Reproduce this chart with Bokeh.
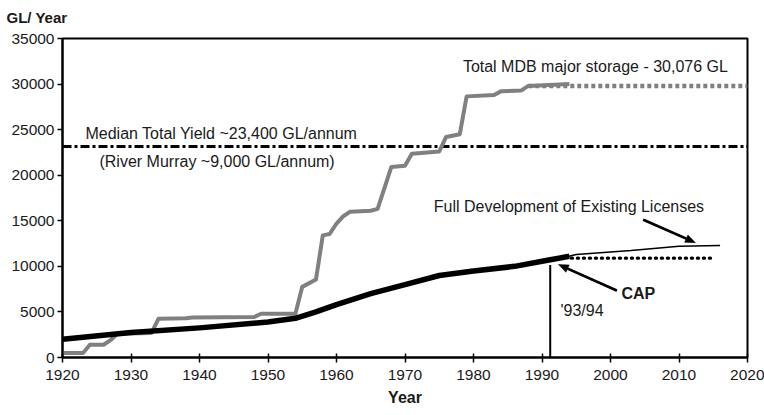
import math
from bokeh.plotting import figure
from bokeh.models import Label, Range1d, FixedTicker, Title, Arrow
from bokeh.embed import file_html
from bokeh.resources import INLINE

# ---- data ----
storage_years = [1920, 1923, 1924, 1926, 1927, 1928, 1933, 1934, 1938, 1939, 1948, 1949,
                 1954, 1955, 1957, 1958, 1959, 1960, 1961, 1962, 1965, 1966, 1968, 1970,
                 1971, 1975, 1976, 1978, 1979, 1983, 1984, 1987, 1988, 1994]
storage_gl = [500, 500, 1400, 1400, 1900, 2600, 2700, 4250, 4300, 4400, 4450, 4800,
              4800, 7750, 8550, 13400, 13550, 14700, 15500, 16000, 16100, 16300, 20900, 21050,
              22350, 22600, 24200, 24500, 28650, 28800, 29200, 29300, 29800, 30000]
storage_proj_years = [1988, 2020]
storage_proj_gl = [29800, 29800]

diversion_years = [1920, 1930, 1940, 1950, 1954, 1957, 1960, 1965, 1970, 1975, 1980, 1986, 1991, 1994]
diversion_gl = [2000, 2750, 3250, 3900, 4300, 5000, 5800, 7000, 8000, 9000, 9500, 10000, 10700, 11100]

full_dev_years = [1993, 1995, 2003, 2010, 2016]
full_dev_gl = [10950, 11300, 11750, 12200, 12300]

cap_years = [1994.3, 2014.6]
cap_gl = [10900, 10900]

median_yield_years = [1920, 2020]
median_yield_gl = [23150, 23150]

cap_intro_year = [1991.2, 1991.2]
cap_intro_gl = [0, 10150]

x_ticks = [1920, 1930, 1940, 1950, 1960, 1970, 1980, 1990, 2000, 2010, 2020]
y_ticks = [0, 5000, 10000, 15000, 20000, 25000, 30000, 35000]

# annotation arrows (start -> tip)
arrow_x0 = [2004.8, 2000.9]
arrow_y0 = [15110, 7350]
arrow_x1 = [2012.4, 1992.4]
arrow_y1 = [12600, 10200]

FONT = "Liberation Sans"
TXT = "#1a1a1a"
GRAY = "#808080"

FRAME_W, FRAME_H = 685, 319
p = figure(width=764, height=415, output_backend="svg", toolbar_location=None,
           x_range=Range1d(1920, 2020), y_range=Range1d(0, 35000),
           min_border_left=62, min_border_right=17, min_border_top=38, min_border_bottom=58)
p.xgrid.visible = False
p.ygrid.visible = False
p.outline_line_color = "black"
p.outline_line_width = 2
p.background_fill_color = "white"
p.border_fill_color = "white"

# top-left unit title "GL/ Year" (title + small spacer above the frame)
p.add_layout(Title(text=" ", text_font_size="10px", standoff=0), "above")
p.title.text = "GL/ Year"
p.title.align = "left"
p.title.offset = -56
p.title.standoff = 0
p.title.vertical_align = "bottom"
p.title.text_font = FONT
p.title.text_font_size = "15px"
p.title.text_font_style = "bold"
p.title.text_color = TXT

for ax in (p.xaxis[0], p.yaxis[0]):
    ax.axis_line_width = 2
    ax.axis_line_color = "black"
    ax.major_tick_line_width = 1.5
    ax.major_tick_line_color = "black"
    ax.minor_tick_line_color = None
    ax.major_label_text_font = FONT
    ax.major_label_text_font_size = "15.5px"
    ax.major_label_text_color = TXT

p.xaxis.ticker = FixedTicker(ticks=x_ticks)
p.yaxis.ticker = FixedTicker(ticks=y_ticks)
p.xaxis.major_tick_out = 5
p.xaxis.major_tick_in = 4
p.yaxis.major_tick_out = 5
p.yaxis.major_tick_in = 0
p.xaxis.major_label_standoff = 7
p.yaxis.major_label_standoff = 3
p.xaxis.axis_label = "Year"
p.xaxis.axis_label_text_font = FONT
p.xaxis.axis_label_text_font_style = "bold"
p.xaxis.axis_label_text_font_size = "16px"
p.xaxis.axis_label_text_color = TXT
p.xaxis.axis_label_standoff = 6

# lines
p.line(median_yield_years, median_yield_gl, line_color="black", line_width=3, line_dash="9 3 3 3")
p.line(storage_proj_years, storage_proj_gl, line_color=GRAY, line_width=4.5, line_dash="4 3")
p.line(storage_years, storage_gl, line_color=GRAY, line_width=4, line_join="round")
p.line(full_dev_years, full_dev_gl, line_color="black", line_width=1.5)
p.line(cap_years, cap_gl, line_color="black", line_width=3.4, line_dash="1 5", line_cap="round")
p.line(diversion_years, diversion_gl, line_color="black", line_width=5.5, line_join="round")
p.line(cap_intro_year, cap_intro_gl, line_color="black", line_width=2)

# texts (y of the text baseline, nudged for rendering offset)
DY = 650
def lab(x, y, t, size="16px", style="normal"):
    p.add_layout(Label(x=x, y=y + DY, text=t, text_font=FONT, text_font_size=size,
                       text_font_style=style, text_color=TXT,
                       text_baseline="alphabetic", text_align="left"))

lab(1923.35, 23920, "Median Total Yield ~23,400 GL/annum")
lab(1925.4, 20880, "(River Murray ~9,000 GL/annum)")
lab(1978.45, 31300, "Total MDB major storage - 30,076 GL")
lab(1974.2, 15940, "Full Development of Existing Licenses")
lab(2001.6, 6360, "CAP", style="bold")
lab(1992.7, 4500, "'93/94")

# arrows drawn last (overlay level): filled outline (shaft + head) in screen-pixel geometry
sx = FRAME_W / 100.0
sy = FRAME_H / 35000.0
HEAD_L, HEAD_W, SHAFT_W = 10.0, 4.0, 1.0
arrow_xs, arrow_ys = [], []
for x0, y0, x1, y1 in zip(arrow_x0, arrow_y0, arrow_x1, arrow_y1):
    X0, Y0 = (x0 - 1920) * sx, y0 * sy
    X1, Y1 = (x1 - 1920) * sx, y1 * sy
    dx, dy = X1 - X0, Y1 - Y0
    n = math.hypot(dx, dy)
    ux, uy = dx / n, dy / n
    nx, ny = -uy, ux
    BX, BY = X1 - HEAD_L * ux, Y1 - HEAD_L * uy
    pts = [
        (X0 + SHAFT_W * nx, Y0 + SHAFT_W * ny),
        (BX + SHAFT_W * nx, BY + SHAFT_W * ny),
        (BX + HEAD_W * nx, BY + HEAD_W * ny),
        (X1, Y1),
        (BX - HEAD_W * nx, BY - HEAD_W * ny),
        (BX - SHAFT_W * nx, BY - SHAFT_W * ny),
        (X0 - SHAFT_W * nx, Y0 - SHAFT_W * ny),
    ]
    arrow_xs.append([1920 + px / sx for px, _ in pts])
    arrow_ys.append([py / sy for _, py in pts])
    # plain shaft as a headless annotation arrow, painted after the labels
    p.add_layout(Arrow(end=None, x_start=x0, y_start=y0,
                       x_end=1920 + BX / sx, y_end=BY / sy,
                       line_color="black", line_width=2, level="overlay"))
p.patches(arrow_xs, arrow_ys, fill_color="black", line_color="black", line_width=0.5,
          level="overlay")

open("out.html", "w").write(file_html(p, INLINE))
